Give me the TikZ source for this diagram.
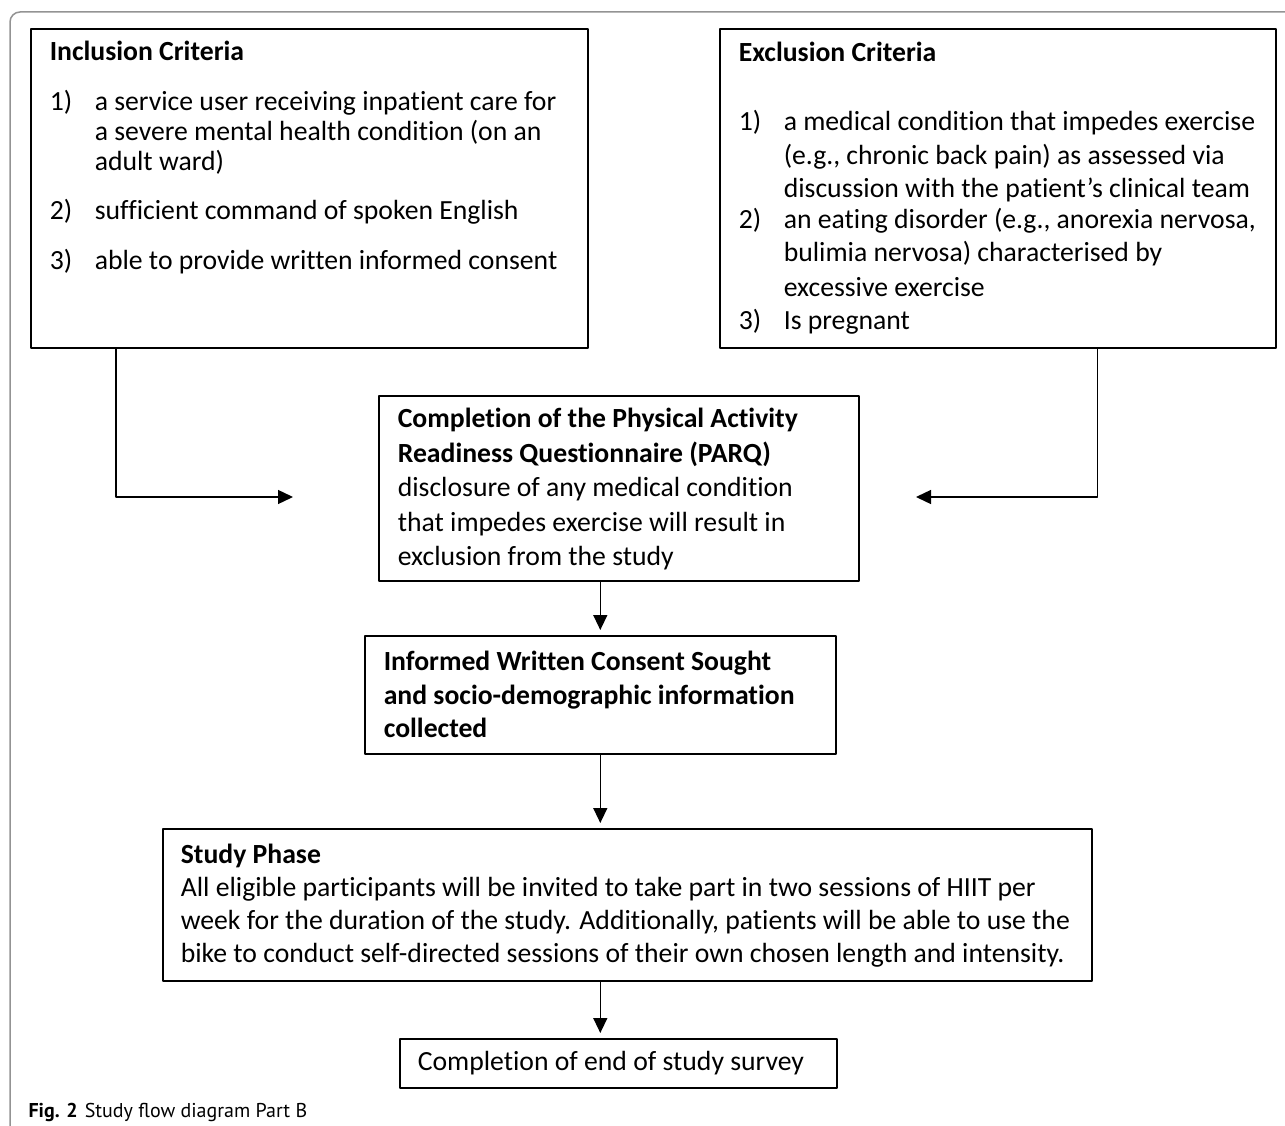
\documentclass[tikz,border=0pt]{standalone}
\usepackage{fontspec}
\setmainfont{Carlito}[Ligatures={TeX,NoCommon}]
\newfontfamily\capfont{PT Sans}
\usetikzlibrary{arrows.meta}
% box text: width, height, top gap, body
\newcommand{\boxtext}[4]{\parbox[c][#2pt][t]{#1pt}{\vspace*{#3pt}#4}}

\begin{document}
\begin{tikzpicture}[x=1pt,y=-1pt,>={Triangle[length=15pt,width=14pt]}, line join=round,
	flowbox/.style={draw, line width=1.6pt, anchor=north west, inner ysep=0pt, inner xsep=19pt},
	flowline/.style={->, line width=1.4pt}]
	\useasboundingbox (0,0) rectangle (1285,1126);
	\clip (0,0) rectangle (1285,1126);
	\draw[gray!85, line width=1.5pt, rounded corners=10pt] (10,1140)--(10,12)--(1300,12);
	%	criteria
	\node[flowbox] (incl) at (30,28) {\boxtext{519}{319}{11}{\fontsize{27.7}{30}\selectfont
		\begin{tabular}[t]{@{}p{45pt}@{}l@{}}
			\multicolumn{2}{@{}l@{}}{\bfseries Inclusion Criteria}\\[20pt]
			1) & a service user receiving inpatient care for\\
			& a severe mental health condition (on an\\
			& adult ward)\\[19pt]
			2) & sufficient command of spoken English\\[20pt]
			3) & able to provide written informed consent
	\end{tabular}}};
	\node[flowbox] (excl) at (719,28) {\boxtext{518}{319}{13.4}{\fontsize{27.7}{28}\selectfont
		\begin{tabular}[t]{@{}p{45pt}@{}l@{}}
			\multicolumn{2}{@{}l@{}}{\bfseries Exclusion Criteria}\\[40pt]
			1) & a medical condition that impedes exercise\\[5pt]
			& (e.g., chronic back pain) as assessed via\\[5pt]
			& discussion with the patient's clinical team\\[3pt]
			2) & an eating disorder (e.g., anorexia nervosa,\\[4pt]
			& bulimia nervosa) characterised by\\[7pt]
			& excessive exercise\\[4pt]
			3) & Is pregnant
	\end{tabular}}};
	%	steps
	\node[flowbox] (parq) at (378,395) {\boxtext{442}{185}{8}{\fontsize{27.7}{34.5}\selectfont
		\begin{tabular}[t]{@{}l@{}}
			\bfseries Completion of the Physical Activity\\
			\bfseries Readiness Questionnaire (PARQ)\\
			disclosure of any medical condition\\
			that impedes exercise will result in\\
			exclusion from the study
	\end{tabular}}};
	\node[flowbox] (consent) at (364,635) {\boxtext{433}{118}{11.5}{\fontsize{27.7}{33.5}\selectfont
		\begin{tabular}[t]{@{}l@{}}
			\bfseries Informed Written Consent Sought\\
			\bfseries and socio-demographic information\\
			\bfseries collected
	\end{tabular}}};
	\node[flowbox, inner xsep=18pt] (study) at (162,828) {\boxtext{893}{152}{12}{\fontsize{27.7}{33}\selectfont
		\begin{tabular}[t]{@{}l@{}}
			\bfseries Study Phase\\
			All eligible participants will be invited to take part in two sessions of HIIT per\\
			week for the duration of the study. Additionally, patients will be able to use the\\
			bike to conduct self-directed sessions of their own chosen length and intensity.
	\end{tabular}}};
	\node[flowbox, inner xsep=18pt] (survey) at (399,1038) {\boxtext{401}{49}{12}{\fontsize{27.7}{30}\selectfont
		Completion of end of study survey}};
	\node[anchor=base west, font=\capfont\fontsize{20}{24}\selectfont] (cap) at (25,1117) {\textbf{Fig. 2}\hspace{7pt}Study flow diagram Part B};
	%	connectors
	\coordinate (inclend) at (293,497);
	\coordinate (exclend) at (916,497);
	\coordinate (svtop) at ([xshift=-18pt]survey.north);
	\draw[flowline] ([xshift=86pt]incl.south west) |- (inclend);
	\draw[flowline] ([xshift=-179pt]excl.south east) |- (exclend);
	\draw[flowline, shorten >=5pt] (parq.south -| consent.north)--(consent.north);
	\draw[flowline, shorten >=5pt] (consent.south)--(consent.south |- study.north);
	\draw[flowline, shorten >=5pt] (svtop |- study.south)--(svtop);
\end{tikzpicture}
\end{document}
